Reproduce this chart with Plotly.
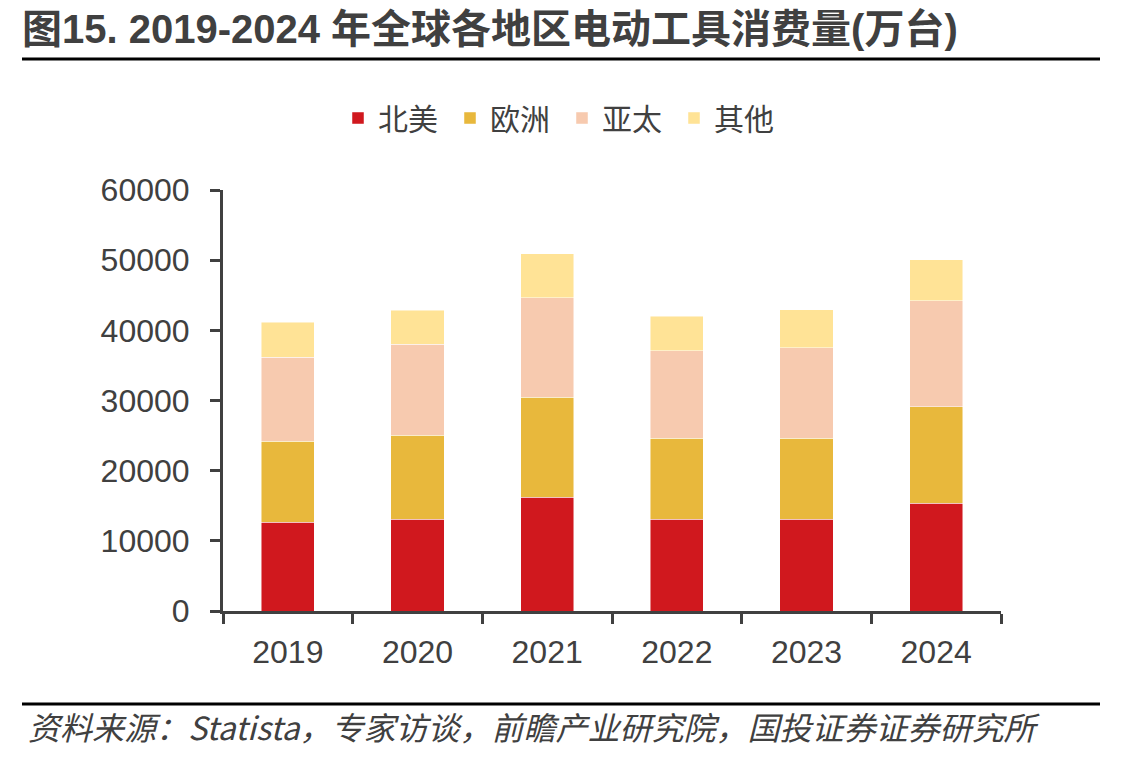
import plotly.graph_objects as go

years = ["2019", "2020", "2021", "2022", "2023", "2024"]
north_america = [12640, 13100, 16200, 13100, 13100, 15340]
europe = [11580, 11970, 14240, 11540, 11540, 13760]
asia_pacific = [11960, 12960, 14190, 12440, 12870, 15100]
others = [4950, 4850, 6320, 4940, 5410, 5840]

series = [
    ("北美", north_america, "#D0181E"),
    ("欧洲", europe, "#E8B83C"),
    ("亚太", asia_pacific, "#F7CAAF"),
    ("其他", others, "#FFE396"),
]

W, H = 1147, 759
L, R, T, B = 223, 146, 190, 148
pw = W - L - R
ph = H - T - B

def px_x(p):
    return (p - L) / pw

def px_y(p):
    return (H - B - p) / ph

fig = go.Figure()
for name, vals, color in series:
    fig.add_trace(go.Bar(
        x=years, y=vals, name=name,
        marker=dict(color=color, line=dict(color="rgba(255,255,255,0.6)", width=0.8)),
    ))

grey = "#404040"
fig.update_layout(
    width=W, height=H,
    margin=dict(l=L, r=R, t=T, b=B, autoexpand=False),
    paper_bgcolor="white", plot_bgcolor="white",
    barmode="stack", bargap=0.59,
    font=dict(family="Liberation Sans, Arial, Noto Sans CJK SC", color=grey),
    title=dict(
        text="<b>图15. 2019-2024 年全球各地区电动工具消费量(万台)</b>",
        x=22 / W, xanchor="left", xref="container",
        y=1 - 29 / H, yanchor="middle", yref="container",
        font=dict(size=40, color=grey, family="Liberation Sans, Noto Sans CJK SC"),
    ),
    legend=dict(
        orientation="h", traceorder="normal",
        x=px_x(338), xanchor="left", y=px_y(118), yanchor="middle",
        font=dict(size=30, color=grey, family="Noto Sans CJK SC"),
        itemwidth=30, entrywidth=67, entrywidthmode="pixels",
        bgcolor="rgba(0,0,0,0)",
    ),
    showlegend=True,
)

fig.update_yaxes(
    range=[0, 60000], tickvals=[0, 10000, 20000, 30000, 40000, 50000, 60000],
    ticktext=["0", "10000", "20000", "30000", "40000", "50000", "60000"],
    showgrid=False, zeroline=False,
    showline=True, linecolor=grey, linewidth=3,
    ticks="outside", ticklen=10, tickwidth=3, tickcolor=grey,
    tickfont=dict(size=32, color=grey, family="Liberation Sans, Arial"),
    ticklabelstandoff=14,
)
fig.update_xaxes(
    type="category", tickson="boundaries",
    showgrid=False, zeroline=False,
    showline=True, linecolor=grey, linewidth=3,
    ticks="outside", ticklen=10, tickwidth=3, tickcolor=grey,
    tickfont=dict(size=32, color=grey, family="Liberation Sans, Arial"),
    ticklabelstandoff=11,
)

# header and footer rules
fig.add_shape(type="line", xref="paper", yref="paper",
              x0=px_x(22), x1=px_x(1100), y0=px_y(59), y1=px_y(59),
              line=dict(color="black", width=3))
fig.add_shape(type="line", xref="paper", yref="paper",
              x0=px_x(22), x1=px_x(1100), y0=px_y(704), y1=px_y(704),
              line=dict(color="black", width=3))

fig.add_annotation(
    text="<i>资料来源：Statista，专家访谈，前瞻产业研究院，国投证券证券研究所</i>",
    xref="paper", yref="paper", x=px_x(26), y=px_y(726),
    xanchor="left", yanchor="middle", showarrow=False,
    font=dict(size=32, color=grey, family="Noto Sans CJK SC"),
)

fig.write_html("out.html")
